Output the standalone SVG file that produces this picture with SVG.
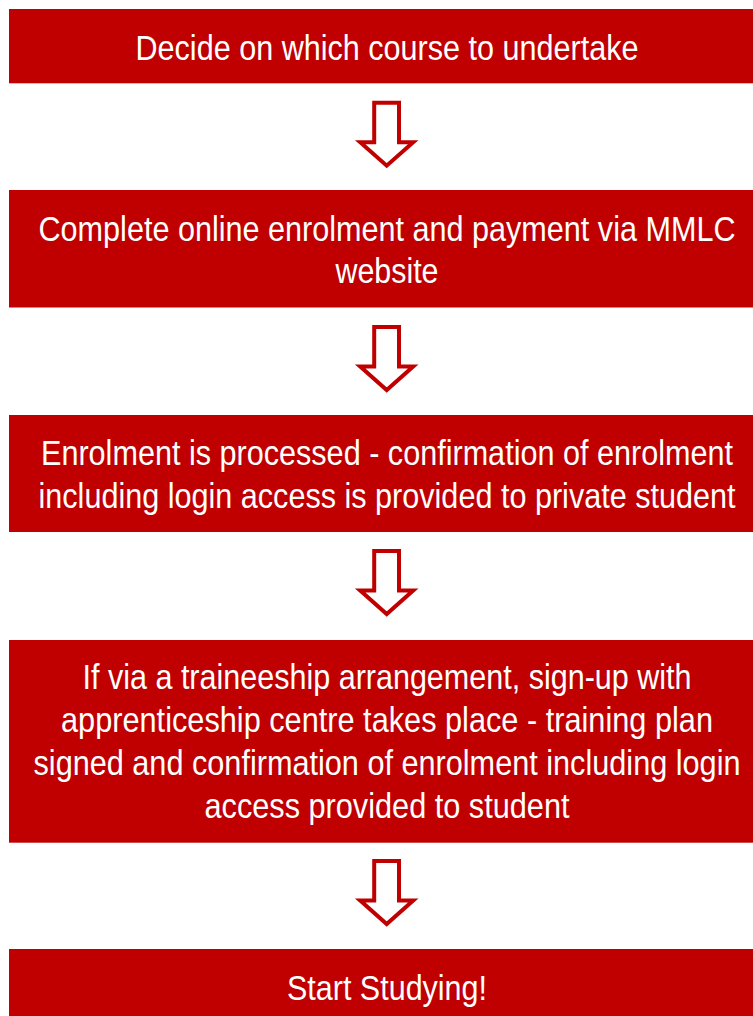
<svg xmlns="http://www.w3.org/2000/svg" xmlns:xlink="http://www.w3.org/1999/xlink" width="753" height="1016" viewBox="0 0 753 1016">
  <style>
    .box { fill: #C00000; }
    .lbl { fill: #FFFFFF; font-family: "Liberation Sans Narrow", "Arial Narrow", "Liberation Sans", Arial, sans-serif; font-size: 35px; text-anchor: middle; }
    .arrow { fill: #FFFFFF; stroke: #C00000; stroke-width: 4; stroke-linejoin: miter; }
  </style>
  <defs>
    <!-- hollow block arrow pointing down, origin at top centre of the shaft -->
    <path id="downArrow" class="arrow" d="M-12.5,0 H12.3 V39.5 H26.5 L0,63 L-26.5,39.5 H-12.5 Z"/>
  </defs>

  <rect width="753" height="1016" fill="#FFFFFF"/>

  <g id="step1">
    <rect class="box" x="9" y="9" width="744" height="74.3"/>
    <text class="lbl" x="387" y="60" textLength="503" lengthAdjust="spacingAndGlyphs">Decide on which course to undertake</text>
  </g>

  <g id="step2">
    <rect class="box" x="9" y="190" width="744" height="117.5"/>
    <text class="lbl" x="387" y="241" textLength="697" lengthAdjust="spacingAndGlyphs">Complete online enrolment and payment via MMLC</text>
    <text class="lbl" x="387" y="283" textLength="103" lengthAdjust="spacingAndGlyphs">website</text>
  </g>

  <g id="step3">
    <rect class="box" x="9" y="415" width="744" height="117"/>
    <text class="lbl" x="387" y="465" textLength="692" lengthAdjust="spacingAndGlyphs">Enrolment is processed - confirmation of enrolment</text>
    <text class="lbl" x="387" y="508" textLength="697" lengthAdjust="spacingAndGlyphs">including login access is provided to private student</text>
  </g>

  <g id="step4">
    <rect class="box" x="9" y="640" width="744" height="202.7"/>
    <text class="lbl" x="387" y="689" textLength="609" lengthAdjust="spacingAndGlyphs">If via a traineeship arrangement, sign-up with</text>
    <text class="lbl" x="387" y="732" textLength="652" lengthAdjust="spacingAndGlyphs">apprenticeship centre takes place - training plan</text>
    <text class="lbl" x="387" y="775" textLength="707" lengthAdjust="spacingAndGlyphs">signed and confirmation of enrolment including login</text>
    <text class="lbl" x="387" y="818" textLength="365" lengthAdjust="spacingAndGlyphs">access provided to student</text>
  </g>

  <g id="step5">
    <rect class="box" x="9" y="949" width="744" height="67"/>
    <text class="lbl" x="387" y="1000" textLength="200" lengthAdjust="spacingAndGlyphs">Start Studying!</text>
  </g>

  <g id="connectors">
    <use xlink:href="#downArrow" transform="translate(386.7,102.7)"/>
    <use xlink:href="#downArrow" transform="translate(386.7,327)"/>
    <use xlink:href="#downArrow" transform="translate(386.7,551)"/>
    <use xlink:href="#downArrow" transform="translate(386.7,861)"/>
  </g>
</svg>
